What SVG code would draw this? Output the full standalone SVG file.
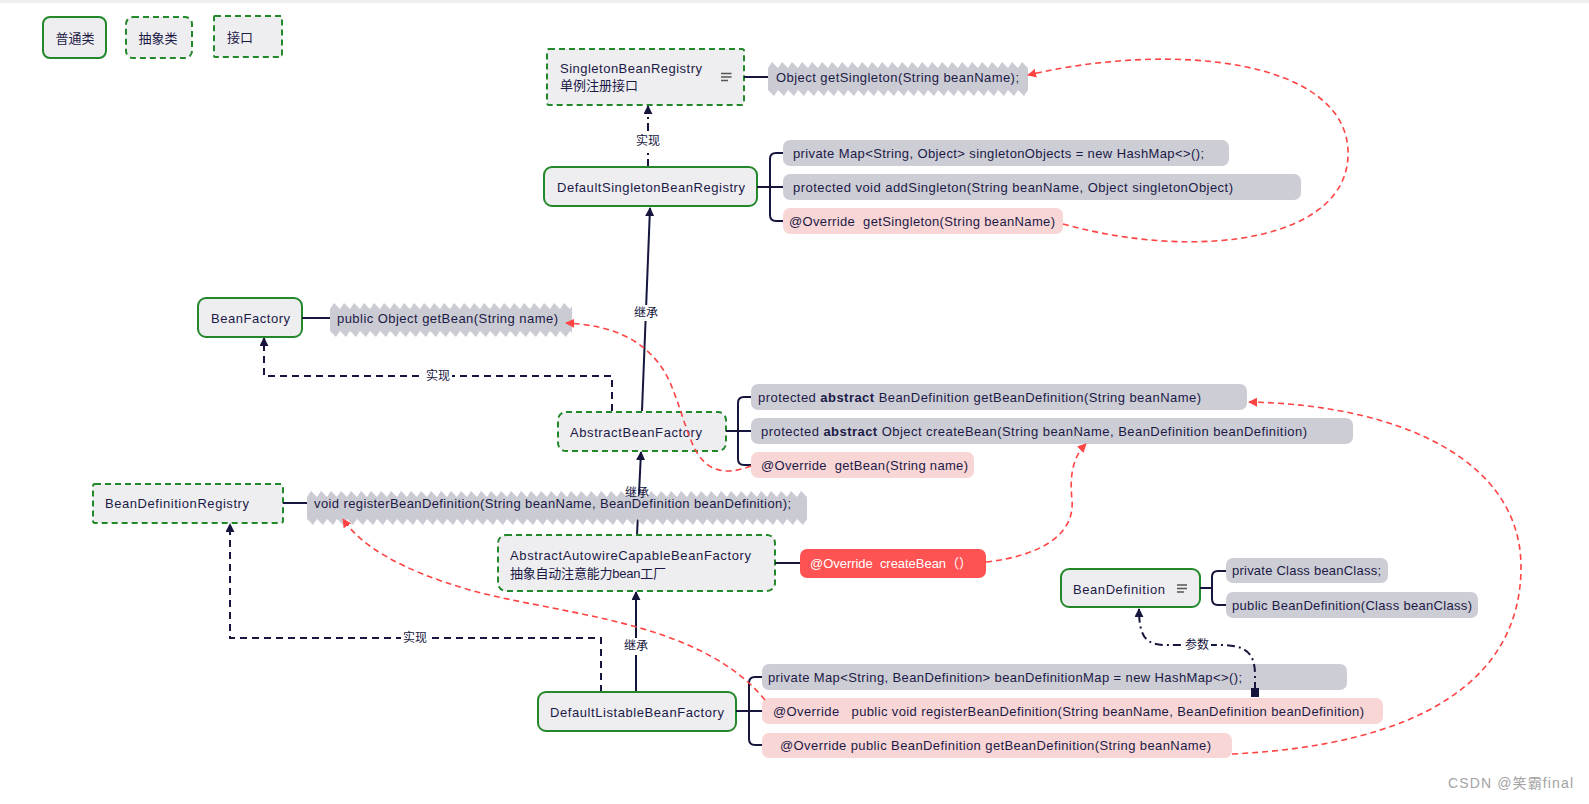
<svg xmlns="http://www.w3.org/2000/svg" width="1589" height="804" viewBox="0 0 1589 804">
<style>
.t{font-family:"Liberation Sans","Noto Sans CJK SC",sans-serif;font-size:13px;fill:#1b1a47;dominant-baseline:central;white-space:pre}
.lb{font-family:"Liberation Sans","Noto Sans CJK SC",sans-serif;font-size:12px;fill:#15153d;dominant-baseline:central;text-anchor:middle}
.n{fill:#eeedf0;stroke:#23882a;stroke-width:2}
.d{stroke-dasharray:6 4}
.pg{fill:#cdcdd5}
.pp{fill:#f9d6d6}
.zz{fill:url(#zig)}
.c{stroke:#15153d;stroke-width:2;fill:none}
.br{stroke:#15153d;stroke-width:2;fill:none}
.dash{stroke-dasharray:7 5}
.dd{stroke-dasharray:8 4 2 4}
.red{stroke:#ff4444;stroke-width:1.6;fill:none;stroke-dasharray:6 4}
.lbg{fill:#ffffff}
.ic{stroke:#555;stroke-width:1.3}
</style>
<defs>
<marker id="ah" viewBox="0 0 10 10" refX="9" refY="5" markerWidth="9" markerHeight="9" orient="auto" markerUnits="userSpaceOnUse"><path d="M0,0 L10,5 L0,10 z" fill="#15153d"/></marker>
<marker id="rh" viewBox="0 0 10 10" refX="9" refY="5" markerWidth="9" markerHeight="9" orient="auto" markerUnits="userSpaceOnUse"><path d="M0,0 L10,5 L0,10 z" fill="#ff4444"/></marker>
<pattern id="zig" patternUnits="userSpaceOnUse" x="0" y="0" width="10" height="34">
<polygon points="0,6 4,0 10,6 10,28 6,34 0,28" fill="#cbcbd3"/>
</pattern>
</defs>
<rect x="0" y="0" width="1589" height="804" fill="#ffffff"/>
<rect x="0" y="0" width="1589" height="3" fill="#efefef"/>

<g id="legend">
<rect class="n" x="43" y="17" width="63" height="41" rx="7"/>
<text class="t" x="75" y="38" text-anchor="middle">普通类</text>
<rect class="n d" x="126" y="17" width="66" height="41" rx="7"/>
<text class="t" x="158" y="38" text-anchor="middle">抽象类</text>
<rect class="n d" x="214" y="16" width="68" height="41" rx="1"/>
<text class="t" x="227" y="37">接口</text>
</g>

<g id="connectors">
<path class="c dd" d="M648,167 V106" marker-end="url(#ah)"/>
<path class="c" d="M642,411 L650,208" marker-end="url(#ah)"/>
<path class="c dash" d="M612,411 V376 H264 V338" marker-end="url(#ah)"/>
<path class="c" d="M637,535 L641,452" marker-end="url(#ah)"/>
<path class="c" d="M636,692 V592" marker-end="url(#ah)"/>
<path class="c dash" d="M601,692 V638 H230 V524" marker-end="url(#ah)"/>
</g>

<g id="SingletonBeanRegistry">
<rect class="n d" x="547" y="49" width="197" height="56" rx="2"/>
<text class="t" x="560" y="68" textLength="142">SingletonBeanRegistry</text>
<text class="t" x="560" y="85" textLength="78">单例注册接口</text>
<path class="ic" d="M721,73.5 H731.5 M721,77 H731.5 M721,80.5 H728"/>
<path class="br" d="M744,77 H770"/>
<g transform="translate(768,62)"><rect class="zz" x="0" y="0" width="260" height="34"/></g>
<text class="t" x="776" y="77.5" textLength="243">Object getSingleton(String beanName);</text>
</g>

<g id="DefaultSingletonBeanRegistry">
<rect class="n" x="544" y="167" width="213" height="39" rx="8"/>
<text class="t" x="557" y="187" textLength="188">DefaultSingletonBeanRegistry</text>
<path class="br" d="M757,187 H783 M783,153 H776 Q770,153 770,159 V215 Q770,221 776,221 H783"/>
<rect class="pg" x="783" y="140" width="446" height="26" rx="7"/>
<text class="t" x="793" y="153" textLength="411">private Map&lt;String, Object&gt; singletonObjects = new HashMap&lt;&gt;();</text>
<rect class="pg" x="783" y="174" width="518" height="26" rx="7"/>
<text class="t" x="793" y="187" textLength="440">protected void addSingleton(String beanName, Object singletonObject)</text>
<rect class="pp" x="783" y="208" width="280" height="26" rx="7"/>
<text class="t" x="789" y="221" textLength="266">@Override  getSingleton(String beanName)</text>
</g>

<g id="BeanFactory">
<rect class="n" x="198" y="298" width="104" height="39" rx="8"/>
<text class="t" x="211" y="318" textLength="79">BeanFactory</text>
<path class="br" d="M302,318 H330"/>
<g transform="translate(330,303)"><rect class="zz" x="0" y="0" width="242" height="34"/></g>
<text class="t" x="337" y="318" textLength="221">public Object getBean(String name)</text>
</g>

<g id="AbstractBeanFactory">
<rect class="n d" x="558" y="412" width="168" height="39" rx="8"/>
<text class="t" x="570" y="432" textLength="132">AbstractBeanFactory</text>
<path class="br" d="M726,431 H751 M751,397 H744 Q738,397 738,403 V459 Q738,465 744,465 H751"/>
<rect class="pg" x="751" y="384" width="496" height="26" rx="7"/>
<text class="t" x="758" y="397" textLength="443">protected <tspan font-weight="bold">abstract</tspan> BeanDefinition getBeanDefinition(String beanName)</text>
<rect class="pg" x="751" y="418" width="602" height="26" rx="7"/>
<text class="t" x="761" y="431" textLength="546">protected <tspan font-weight="bold">abstract</tspan> Object createBean(String beanName, BeanDefinition beanDefinition)</text>
<rect class="pp" x="751" y="452" width="223" height="26" rx="7"/>
<text class="t" x="761" y="465" textLength="207">@Override  getBean(String name)</text>
</g>

<g id="BeanDefinitionRegistry">
<rect class="n d" x="93" y="484" width="190" height="39" rx="2"/>
<text class="t" x="105" y="503" textLength="144">BeanDefinitionRegistry</text>
<path class="br" d="M283,503 H310"/>
<g transform="translate(307,491)"><rect class="zz" x="0" y="0" width="500" height="34"/></g>
<text class="t" x="314" y="503" textLength="477">void registerBeanDefinition(String beanName, BeanDefinition beanDefinition);</text>
</g>

<g id="AbstractAutowireCapableBeanFactory">
<rect class="n d" x="498" y="535" width="277" height="56" rx="8"/>
<text class="t" x="510" y="555" textLength="241">AbstractAutowireCapableBeanFactory</text>
<text class="t" x="510" y="573" textLength="156">抽象自动注意能力bean工厂</text>
<path class="br" d="M775,563 H800"/>
<rect x="800" y="549" width="186" height="29" rx="7" fill="#ff5252"/>
<text class="t" x="810" y="563.5" textLength="162" style="fill:#ffffff">@Override  createBean（）</text>
</g>

<g id="BeanDefinition">
<rect class="n" x="1061" y="569" width="139" height="38" rx="8"/>
<text class="t" x="1073" y="589" textLength="92">BeanDefinition</text>
<path class="ic" d="M1177,585 H1187 M1177,588.5 H1187 M1177,592 H1184"/>
<path class="br" d="M1200,588 H1212 M1226,571 H1218 Q1212,571 1212,577 V599 Q1212,605 1218,605 H1226"/>
<rect class="pg" x="1226" y="558" width="162" height="25" rx="7"/>
<text class="t" x="1232" y="570.5" textLength="149">private Class beanClass;</text>
<rect class="pg" x="1226" y="592" width="252" height="26" rx="7"/>
<text class="t" x="1232" y="605" textLength="240">public BeanDefinition(Class beanClass)</text>
</g>

<g id="DefaultListableBeanFactory">
<rect class="n" x="538" y="692" width="198" height="39" rx="8"/>
<text class="t" x="550" y="712" textLength="174">DefaultListableBeanFactory</text>
<path class="br" d="M736,711 H762 M762,677 H755 Q749,677 749,683 V739 Q749,745 755,745 H762"/>
<rect class="pg" x="762" y="664" width="585" height="26" rx="7"/>
<text class="t" x="768" y="677" textLength="474">private Map&lt;String, BeanDefinition&gt; beanDefinitionMap = new HashMap&lt;&gt;();</text>
<rect class="pp" x="762" y="698" width="621" height="26" rx="7"/>
<text class="t" x="773" y="711" textLength="591">@Override   public void registerBeanDefinition(String beanName, BeanDefinition beanDefinition)</text>
<rect class="pp" x="762" y="733" width="470" height="25" rx="7"/>
<text class="t" x="780" y="745.5" textLength="431">@Override public BeanDefinition getBeanDefinition(String beanName)</text>
</g>

<g id="overlay-connectors">
<path class="c dd" d="M1255,690 V675 C1255,652 1245,645 1220,645 L1165,645 C1145,645 1139,635 1139,609" marker-end="url(#ah)"/>
<rect x="1251" y="688" width="8" height="9" fill="#15153d"/>
<path class="red" d="M1063,224 C1200,262 1352,240 1348,150 C1344,62 1180,40 1028,75" marker-end="url(#rh)"/>
<path class="red" d="M751,466 C725,476 705,472 693,445 C680,415 675,385 660,365 C640,338 610,325 566,323" marker-end="url(#rh)"/>
<path class="red" d="M986,562 C1040,556 1075,535 1072,500 C1069,470 1075,455 1086,444" marker-end="url(#rh)"/>
<path class="red" d="M765,700 C700,620 560,615 470,590 C400,570 360,545 343,519" marker-end="url(#rh)"/>
<path class="red" d="M1232,754 C1420,745 1521,680 1521,567 C1521,460 1400,405 1249,402" marker-end="url(#rh)"/>
</g>

<g id="connector-labels">
<rect class="lbg" x="634" y="133" width="28" height="16"/>
<text class="lb" x="648" y="141">实现</text>
<rect class="lbg" x="632" y="305" width="28" height="16"/>
<text class="lb" x="646" y="313">继承</text>
<rect class="lbg" x="424" y="368" width="28" height="16"/>
<text class="lb" x="438" y="376">实现</text>
<text class="lb" x="637" y="493">继承</text>
<rect class="lbg" x="622" y="638" width="28" height="17"/>
<text class="lb" x="636" y="646">继承</text>
<rect class="lbg" x="401" y="630" width="28" height="16"/>
<text class="lb" x="415" y="638">实现</text>
<rect class="lbg" x="1183" y="637" width="28" height="16"/>
<text class="lb" x="1197" y="645">参数</text>
</g>

<text x="1448" y="788" font-family="Liberation Sans, Noto Sans CJK SC, sans-serif" font-size="14" fill="#a3a3a3" textLength="125">CSDN @笑霸final</text>
</svg>
